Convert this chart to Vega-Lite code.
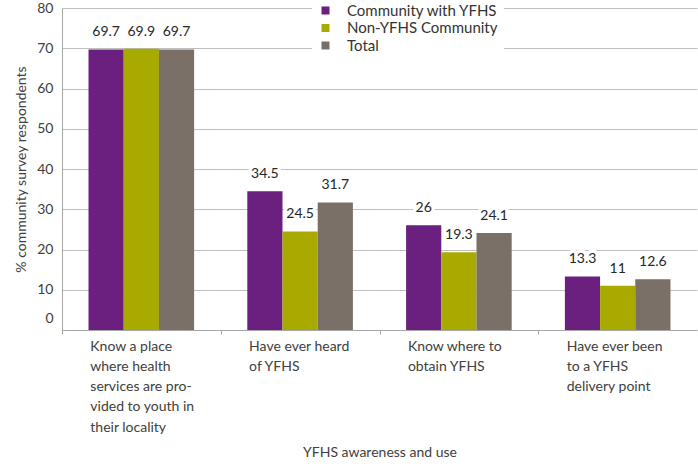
{
  "$schema": "https://vega.github.io/schema/vega-lite/v6.json",
  "width": 635,
  "height": 322,
  "autosize": {"type": "none"},
  "padding": {"left": 62, "top": 8, "right": 1, "bottom": 136},
  "background": "white",
  "config": {"view": {"stroke": null}, "font": "Lato"},
  "data": {
    "values": [
      {"cat": "Know a place|where health|services are pro-|vided to youth in|their locality", "grp": "Community with YFHS", "value": 69.7},
      {"cat": "Know a place|where health|services are pro-|vided to youth in|their locality", "grp": " Non-YFHS Community", "value": 69.9},
      {"cat": "Know a place|where health|services are pro-|vided to youth in|their locality", "grp": "Total", "value": 69.7},
      {"cat": "Have ever heard|of YFHS", "grp": "Community with YFHS", "value": 34.5},
      {"cat": "Have ever heard|of YFHS", "grp": " Non-YFHS Community", "value": 24.5},
      {"cat": "Have ever heard|of YFHS", "grp": "Total", "value": 31.7},
      {"cat": "Know where to|obtain YFHS", "grp": "Community with YFHS", "value": 26},
      {"cat": "Know where to|obtain YFHS", "grp": " Non-YFHS Community", "value": 19.3},
      {"cat": "Know where to|obtain YFHS", "grp": "Total", "value": 24.1},
      {"cat": "Have ever been|to a YFHS|delivery point", "grp": "Community with YFHS", "value": 13.3},
      {"cat": "Have ever been|to a YFHS|delivery point", "grp": " Non-YFHS Community", "value": 11},
      {"cat": "Have ever been|to a YFHS|delivery point", "grp": "Total", "value": 12.6}
    ]
  },
  "encoding": {
    "x": {
      "field": "cat",
      "type": "nominal",
      "sort": null,
      "scale": {"paddingInner": 0.335, "paddingOuter": 0.167},
      "axis": {
        "title": "YFHS awareness and use",
        "titleFont": "Lato",
        "titleFontSize": 14,
        "titleFontWeight": "normal",
        "titleColor": "#404040",
        "titlePadding": 11,
        "labelExpr": "split(datum.label, '|')",
        "labelAngle": 0,
        "labelAlign": "left",
        "labelBaseline": "top",
        "labelFontSize": 14,
        "labelLineHeight": 20.3,
        "labelColor": "#404040",
        "labelPadding": 5,
        "labelOffset": -25,
        "labelLimit": 300,
        "bandPosition": 0,
        "tickOffset": -26.5,
        "tickSize": 4,
        "tickColor": "#A6A6A6",
        "domainColor": "#A6A6A6",
        "grid": false
      }
    },
    "xOffset": {
      "field": "grp",
      "type": "nominal",
      "sort": ["Community with YFHS", " Non-YFHS Community", "Total"],
      "scale": {"paddingInner": 0, "paddingOuter": 0}
    },
    "y": {
      "field": "value",
      "type": "quantitative",
      "scale": {"domain": [0, 80]},
      "axis": {
        "title": "% community survey respondents",
        "titleFont": "Lato",
        "titleFontSize": 14,
        "titleFontWeight": "normal",
        "titleColor": "#404040",
        "titlePadding": 8,
        "values": [0, 10, 20, 30, 40, 50, 60, 70, 80],
        "labelFontSize": 14,
        "labelColor": "#404040",
        "labelPadding": 9,
        "labelOffset": {"condition": {"test": "datum.value === 0", "value": -12}, "value": 0},
        "ticks": false,
        "grid": true,
        "gridColor": "#BFBFBF",
        "gridWidth": 1,
        "domainColor": "#A6A6A6"
      }
    }
  },
  "layer": [
    {
      "mark": {"type": "bar"},
      "encoding": {
        "color": {
          "field": "grp",
          "type": "nominal",
          "sort": ["Community with YFHS", " Non-YFHS Community", "Total"],
          "scale": {
            "domain": ["Community with YFHS", " Non-YFHS Community", "Total"],
            "range": ["#6B1F7F", "#A8AA00", "#7A7068"]
          },
          "legend": {
            "title": null,
            "orient": "none",
            "legendX": 250,
            "legendY": -11,
            "padding": 6,
            "fillColor": "white",
            "symbolType": "square",
            "symbolSize": 64,
            "symbolStrokeWidth": 0,
            "labelFontSize": 15,
            "labelFont": "Lato",
            "labelColor": "#333333",
            "labelOffset": 14,
            "rowPadding": 1.5,
            "labelLimit": 300
          }
        }
      }
    },
    {
      "mark": {"type": "text", "stroke": "white", "strokeWidth": 7, "strokeJoin": "round", "fill": "white", "dy": -13, "baseline": "alphabetic", "fontSize": 14, "font": "Lato"},
      "encoding": {"text": {"field": "value", "type": "quantitative"}}
    },
    {
      "mark": {"type": "text", "color": "#262626", "dy": -13, "baseline": "alphabetic", "fontSize": 14, "font": "Lato"},
      "encoding": {"text": {"field": "value", "type": "quantitative"}}
    }
  ]
}
